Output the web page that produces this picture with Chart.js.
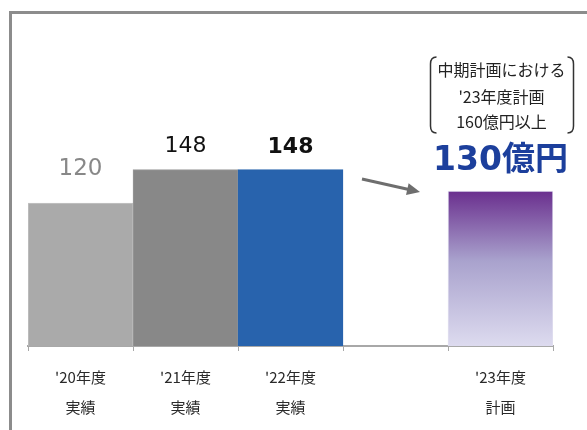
<!DOCTYPE html>
<html><head><meta charset="utf-8">
<script src="https://cdn.jsdelivr.net/npm/chart.js@4"></script>
<style>html,body{margin:0;padding:0;background:#fff}#wrap{width:587px;height:430px}</style>
</head><body><div id="wrap"><canvas id="c" width="587" height="430"></canvas></div>
<script>
const categories = [["'20年度","実績"],["'21年度","実績"],["'22年度","実績"],"",["'23年度","計画"]];
const values = [120, 148, 148, null, 130];
const valueLabels = ["120", "148", "148", "", "130億円"];
const noteLines = ["中期計画における", "'23年度計画", "160億円以上"];

const barColors = ["#aaaaaa", "#888888", "#2863ad", null, null];
const borderColors = ["#c4c4c4", "#9a9a9a", "#2863ad", "#ffffff", "#e2e0f0"];

const JP = "'Noto Sans CJK JP', 'DejaVu Sans', sans-serif";
const NUM = "'DejaVu Sans', 'Noto Sans CJK JP', sans-serif";

const decor = {
  id: 'decor',
  beforeDraw(chart) {
    const ctx = chart.ctx;
    ctx.save();
    ctx.fillStyle = '#fff';
    ctx.fillRect(0, 0, chart.width, chart.height);
    ctx.strokeStyle = '#8c8c8c';
    ctx.lineWidth = 3;
    ctx.beginPath();
    ctx.moveTo(10.5, 440);
    ctx.lineTo(10.5, 12.5);
    ctx.lineTo(600, 12.5);
    ctx.stroke();
    ctx.restore();
  },
  afterDatasetsDraw(chart) {
    const ctx = chart.ctx;
    const meta = chart.getDatasetMeta(0);
    ctx.save();
    ctx.textAlign = 'center';
    ctx.textBaseline = 'middle';
    const styles = [
      {font: "23px " + NUM, color: '#888888', dy: -34},
      {font: "22px " + NUM, color: '#111111', dy: -23},
      {font: "bold 22px " + NUM, color: '#111111', dy: -22},
      null,
      {font: "bold 33px " + NUM, color: '#1c3f9c', dy: -30}
    ];
    meta.data.forEach((bar, i) => {
      const s = styles[i];
      if (!s || values[i] == null) return;
      ctx.font = s.font;
      ctx.fillStyle = s.color;
      ctx.fillText(valueLabels[i], bar.x, bar.y + s.dy);
    });
    const nb = meta.data[4];
    const cx = nb.x + 1;
    ctx.font = "16px " + JP;
    ctx.fillStyle = '#222';
    const ys = [70, 97, 122];
    noteLines.forEach((t, k) => ctx.fillText(t, cx, ys[k]));
    ctx.strokeStyle = '#333';
    ctx.lineWidth = 1.5;
    const l = cx - 71, r = cx + 72, t0 = 57, b0 = 133;
    ctx.beginPath();
    ctx.moveTo(l + 6, t0); ctx.quadraticCurveTo(l, t0, l, t0 + 7);
    ctx.lineTo(l, b0 - 7); ctx.quadraticCurveTo(l, b0, l + 6, b0);
    ctx.moveTo(r - 6, t0); ctx.quadraticCurveTo(r, t0, r, t0 + 7);
    ctx.lineTo(r, b0 - 7); ctx.quadraticCurveTo(r, b0, r - 6, b0);
    ctx.stroke();
    ctx.strokeStyle = '#6e6e6e';
    ctx.fillStyle = '#6e6e6e';
    ctx.lineWidth = 3;
    const x1 = 362, y1 = 179, x2 = 420, y2 = 192;
    const ang = Math.atan2(y2 - y1, x2 - x1);
    ctx.beginPath();
    ctx.moveTo(x1, y1);
    ctx.lineTo(x2 - 8 * Math.cos(ang), y2 - 8 * Math.sin(ang));
    ctx.stroke();
    ctx.beginPath();
    ctx.moveTo(x2, y2);
    ctx.lineTo(x2 - 13 * Math.cos(ang) + 6 * Math.sin(ang), y2 - 13 * Math.sin(ang) - 6 * Math.cos(ang));
    ctx.lineTo(x2 - 13 * Math.cos(ang) - 6 * Math.sin(ang), y2 - 13 * Math.sin(ang) + 6 * Math.cos(ang));
    ctx.closePath();
    ctx.fill();
    ctx.restore();
  }
};

new Chart(document.getElementById('c'), {
  type: 'bar',
  data: {
    labels: categories,
    datasets: [{
      data: values,
      backgroundColor(context) {
        const i = context.dataIndex;
        if (values[i] == null) return 'rgba(0,0,0,0)';
        if (barColors[i]) return barColors[i];
        const chart = context.chart;
        const area = chart.chartArea;
        const ys = chart.scales && chart.scales.y;
        if (!area || !ys) return '#9a8cc4';
        const yTop = ys.getPixelForValue(values[i]);
        if (!isFinite(yTop) || !isFinite(area.bottom)) return '#9a8cc4';
        const g = chart.ctx.createLinearGradient(0, yTop, 0, area.bottom);
        g.addColorStop(0, '#6a2f8e');
        g.addColorStop(0.45, '#a9a2cd');
        g.addColorStop(1, '#dddbef');
        return g;
      },
      borderColor: borderColors,
      borderWidth: 1,
      borderSkipped: 'bottom',
      categoryPercentage: 1,
      barPercentage: 1
    }]
  },
  options: {
    responsive: false,
    animation: false,
    devicePixelRatio: 1,
    layout: {padding: {left: 28, right: 34, top: 48, bottom: 0}},
    plugins: {legend: {display: false}, tooltip: {enabled: false}},
    scales: {
      y: {display: false, min: 0, max: 250},
      x: {
        afterFit(scale) { scale.height = 84; },
        border: {display: true, color: '#a8a8a8', width: 2},
        grid: {display: true, drawOnChartArea: false, drawTicks: true, tickLength: 5, color: '#a8a8a8', lineWidth: 1, offset: true},
        ticks: {font: {family: JP, size: 15, lineHeight: 2}, color: '#2a2a2a', padding: 11, maxRotation: 0, autoSkip: false}
      }
    }
  },
  plugins: [decor]
});
</script>
</body></html>
